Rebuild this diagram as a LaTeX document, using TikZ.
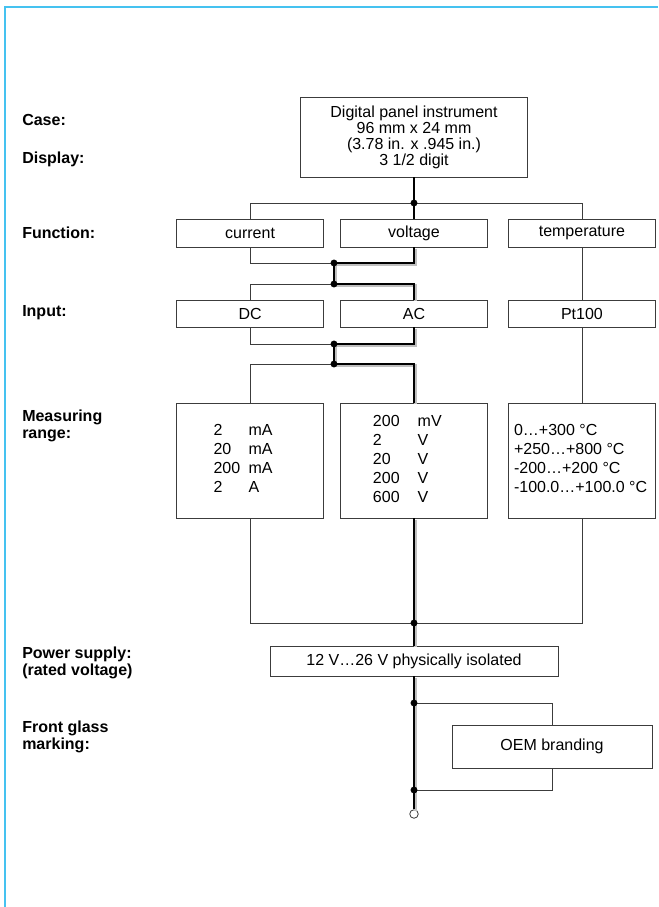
\documentclass[tikz,border=0pt]{standalone}
\usepackage{fontspec}
\setmainfont{Liberation Sans}
\usetikzlibrary{positioning}

\definecolor{frameblue}{HTML}{45C2F0}
\definecolor{linegray}{HTML}{3C3C3C}

\tikzset{
  frameline/.style={draw=frameblue, line width=1.5pt},
  rowlabel/.style={anchor=west, align=left, inner sep=0pt, font=\fontsize{12}{12.5}\selectfont\bfseries},
  box/.style={draw=linegray, line width=0.7pt, fill=white, inner sep=0pt, align=center, font=\fontsize{12}{12}\selectfont},
  smallbox/.style={box, minimum width=110.25pt, minimum height=21pt},
  rangebox/.style={box, minimum width=110.25pt, minimum height=86.25pt, font=\fontsize{12}{14.25}\selectfont},
  wire/.style={draw=linegray, line width=0.6pt},
  mainwire/.style={draw=black, line width=0.9pt},
  trackshadow/.style={draw=black!25, line width=2.4pt, transform canvas={xshift=0.9pt, yshift=-0.9pt}},
  dot/.style={circle, fill=black, inner sep=0pt, minimum size=5.2pt},
  endpoint/.style={circle, draw=linegray, line width=0.6pt, fill=white, inner sep=0pt, minimum size=6.4pt}
}

\begin{document}
\begin{tikzpicture}[x=0.75pt, y=-0.75pt]
  \useasboundingbox (0,0) rectangle (658,907);
  \draw[frameline] (5,907) -- (5,7) -- (658,7);

  % row titles
  \node[rowlabel] (lcase) at (22,120) {Case:};
  \node[rowlabel] (ldisp) at (22,159) {Display:};
  \node[rowlabel] (lfunc) at (22,233) {Function:};
  \node[rowlabel] (linput) at (22,313) {Input:};
  \node[rowlabel] (lrange) at (22,426) {Measuring\\range:};
  \node[rowlabel] (lpower) at (22,663) {Power supply:\\(rated voltage)};
  \node[rowlabel] (lglass) at (22,737) {Front glass\\marking:};

  % boxes
  \node[box, minimum width=170.25pt, minimum height=60pt] (dpi) at (414,137)
    {Digital panel instrument\\96 mm x 24 mm\\(3.78 in. x .945 in.)\\3 1/2 digit};
  \node[smallbox] (volt) at (414,233) {voltage};
  \node[smallbox] (curr) [left=12pt of volt] {current};
  \node[smallbox] (temp) [right=15pt of volt] {temperature};
  \node[smallbox, minimum height=20.25pt] (ac) at (414,313.5) {AC};
  \node[smallbox, minimum height=20.25pt] (dc) [left=12pt of ac] {DC};
  \node[smallbox, minimum height=20.25pt] (pt) [right=15pt of ac] {Pt100};
  \node[rangebox] (rvolt) at (414,460.5)
    {\begin{tabular}{@{}l@{\hspace{13.5pt}}l@{\hspace{10pt}}}200&mV\\2&V\\20&V\\200&V\\600&V\end{tabular}};
  \node[rangebox] (rcurr) [left=12pt of rvolt]
    {\begin{tabular}{@{}l@{\hspace{6.2pt}}l@{\hspace{10.5pt}}}2&mA\\20&mA\\200&mA\\2&A\end{tabular}};
  \node[rangebox] (rtemp) [right=15pt of rvolt]
    {\begin{tabular}{@{}l@{\hspace{2pt}}}0…+300 °C\\+250…+800 °C\\-200…+200 °C\\-100.0…+100.0 °C\end{tabular}};
  \node[box, minimum width=216pt, minimum height=22.5pt] (pw) at (414,661) {12 V…26 V physically isolated};
  \node[box, minimum width=150pt, minimum height=32.25pt] (oem) at (552,746.5) {OEM branding};

  % junctions
  \coordinate (j1) at (414,203);
  \coordinate (j2) at (334,263);
  \coordinate (j3) at (334,284);
  \coordinate (j4) at (334,344);
  \coordinate (j5) at (334,364);
  \coordinate (j6) at (414,623);
  \coordinate (j7) at (414,703);
  \coordinate (j8) at (414,790);
  \node[endpoint] (out) at (414,814) {};

  % side branches
  \draw[wire] (j1) -| (curr.north);
  \draw[wire] (j1) -| (temp.north);
  \draw[wire] (curr.south) |- (j2);
  \draw[wire] (j3) -| (dc.north);
  \draw[wire] (dc.south) |- (j4);
  \draw[wire] (j5) -| (rcurr.north);
  \draw[wire] (temp.south) -- (pt.north);
  \draw[wire] (pt.south) -- (rtemp.north);
  \draw[wire] (rcurr.south) |- (j6);
  \draw[wire] (rtemp.south) |- (j6);
  \draw[wire] (j7) -| (oem.north);
  \draw[wire] (oem.south) |- (j8);

  % voltage track
  \draw[mainwire] (dpi.south) -- (j1) -- (volt.north);
  \foreach \st in {trackshadow,mainwire}
    \draw[\st] (volt.south) |- (j2) -- (j3) -| (ac.north)
               (ac.south) |- (j4) -- (j5) -| (rvolt.north)
               (rvolt.south) -- (j6) -- (pw.north)
               (pw.south) -- (j7) -- (j8) -- (out.north);

  \node[dot] (d1) at (j1) {};
  \node[dot] (d2) at (j2) {};
  \node[dot] (d3) at (j3) {};
  \node[dot] (d4) at (j4) {};
  \node[dot] (d5) at (j5) {};
  \node[dot] (d6) at (j6) {};
  \node[dot] (d7) at (j7) {};
  \node[dot] (d8) at (j8) {};
\end{tikzpicture}
\end{document}
